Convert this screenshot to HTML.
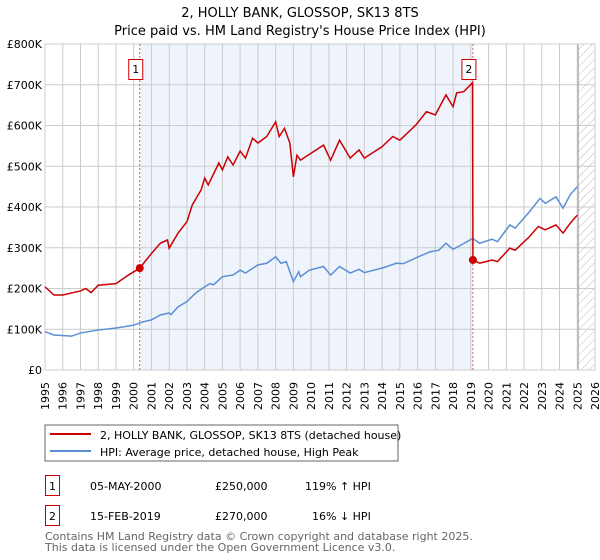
<!DOCTYPE html>
<html><head><meta charset="utf-8"><style>
body{margin:0;background:#fff;font-family:"DejaVu Sans","Liberation Sans",sans-serif;}
svg{display:block}
text{font-family:"DejaVu Sans","Liberation Sans",sans-serif;}
</style></head><body>
<svg id="chart" width="600" height="560" viewBox="0 0 600 560">
<defs>
<pattern id="hatch" width="6" height="6" patternUnits="userSpaceOnUse" patternTransform="rotate(45)">
<line x1="0" y1="0" x2="0" y2="6" stroke="#bbb" stroke-width="1"/></pattern>
</defs>
<text x="300" y="17" text-anchor="middle" font-size="13">2, HOLLY BANK, GLOSSOP, SK13 8TS</text>
<text x="300" y="35" text-anchor="middle" font-size="13">Price paid vs. HM Land Registry's House Price Index (HPI)</text>
<g id="plot"></g>
<rect x="45" y="425" width="353" height="36" fill="#fff" stroke="#666"/>
<line x1="50" y1="434" x2="91" y2="434" stroke="#cc0000" stroke-width="2"/>
<text x="100" y="439" font-size="11">2, HOLLY BANK, GLOSSOP, SK13 8TS (detached house)</text>
<line x1="50" y1="451" x2="91" y2="451" stroke="#5b8fd4" stroke-width="2"/>
<text x="100" y="456" font-size="11">HPI: Average price, detached house, High Peak</text>
<rect x="45.5" y="475.5" width="14" height="20" fill="#fff" stroke="#cc0000"/>
<text x="52.5" y="490" font-size="11" text-anchor="middle">1</text>
<text x="90" y="490" font-size="11">05-MAY-2000</text>
<text x="215" y="490" font-size="11">£250,000</text>
<text x="305" y="490" font-size="11">119% ↑ HPI</text>
<rect x="45.5" y="505.5" width="14" height="20" fill="#fff" stroke="#cc0000"/>
<text x="52.5" y="520" font-size="11" text-anchor="middle">2</text>
<text x="90" y="520" font-size="11">15-FEB-2019</text>
<text x="215" y="520" font-size="11">£270,000</text>
<text x="312" y="520" font-size="11">16% ↓ HPI</text>
<text x="45" y="540" font-size="11" fill="#666">Contains HM Land Registry data © Crown copyright and database right 2025.</text>
<text x="45" y="551" font-size="11" fill="#666">This data is licensed under the Open Government Licence v3.0.</text>
</svg>
<script>
const hpiYears=[1995,1995.5,1996.5,1997,1998,1999,2000,2000.5,2001,2001.5,2002,2002.1,2002.5,2003,2003.5,2004,2004.3,2004.5,2005,2005.6,2006,2006.3,2007,2007.5,2008,2008.3,2008.6,2009,2009.3,2009.4,2009.9,2010.7,2011.1,2011.6,2012.2,2012.7,2013,2014,2014.8,2015.2,2015.9,2016.7,2017.2,2017.6,2018,2018.8,2019.1,2019.5,2020.2,2020.5,2021.2,2021.5,2022.3,2022.9,2023.2,2023.8,2024.2,2024.6,2025];
const hpiValues=[94,86,83,91,98,103,110,118,123,135,140,136,155,168,189,204,212,209,229,233,245,238,258,262,278,262,266,217,241,229,245,254,233,254,238,247,239,250,262,261,275,290,294,311,296,315,323,311,321,315,356,348,388,421,409,425,397,430,450];
const redYears=[1995,1995.5,1996,1997,1997.3,1997.6,1998,1999,1999.7,2000.34,2001,2001.5,2001.9,2002,2002.5,2003,2003.3,2003.8,2004,2004.2,2004.8,2005,2005.3,2005.6,2006,2006.3,2006.7,2007,2007.5,2008,2008.2,2008.5,2008.8,2009,2009.2,2009.4,2010.7,2011.1,2011.6,2012.2,2012.7,2013,2014,2014.6,2015,2015.9,2016.5,2017,2017.6,2018,2018.2,2018.6,2019.1,2019.12,2019.5,2020.2,2020.5,2021.2,2021.5,2022.3,2022.8,2023.2,2023.8,2024.2,2024.6,2025];
const redValues=[204,184,184,194,200,190,208,212,233,250,286,311,319,299,336,364,405,442,471,454,508,491,523,503,537,520,569,557,573,609,573,593,557,474,527,515,552,515,564,520,540,520,548,573,564,601,634,626,675,646,680,683,705,270,262,270,266,299,294,327,352,344,356,336,360,380];
const yTicks=[0,100,200,300,400,500,600,700,800];
const yTickLabels=["£0","£100K","£200K","£300K","£400K","£500K","£600K","£700K","£800K"];
const xTicks=[1995,1996,1997,1998,1999,2000,2001,2002,2003,2004,2005,2006,2007,2008,2009,2010,2011,2012,2013,2014,2015,2016,2017,2018,2019,2020,2021,2022,2023,2024,2025,2026];
const saleYears=[2000.34,2019.12];
const saleValues=[250,270];
const saleLabels=["1","2"];

const NS="http://www.w3.org/2000/svg";
const L=45,R=595,T=44,B=370,X0=1995,X1=2026,YMAX=800;
const xs=v=>L+(v-X0)/(X1-X0)*(R-L);
const ys=v=>B-v/YMAX*(B-T);
const g=document.getElementById('plot');
function mk(tag,attrs){const e=document.createElementNS(NS,tag);for(const k in attrs)e.setAttribute(k,attrs[k]);g.appendChild(e);return e;}

const shade=mk('rect',{x:xs(saleYears[0]),y:T,width:xs(saleYears[1])-xs(saleYears[0]),height:B-T,fill:'#eef3fc'});


const hz=mk('rect',{x:xs(2025.05),y:T,width:R-xs(2025.05),height:B-T,fill:'url(#hatch)'});



yTicks.forEach((t,i)=>{
 const ln=mk('line',{x1:L,x2:R,y1:ys(t),y2:ys(t),stroke:'#ccc','stroke-width':1});
 
 
 const tx=mk('text',{x:L-3,y:ys(t)+4,'text-anchor':'end','font-size':11});
 tx.textContent=yTickLabels[i];
 
 
});
xTicks.forEach(t=>{
 const ln=mk('line',{x1:xs(t),x2:xs(t),y1:T,y2:B,stroke:'#ccc','stroke-width':1});
 
 
 const tx=mk('text',{x:0,y:0,'font-size':11,'text-anchor':'end',transform:`translate(${xs(t)+4},${B+12}) rotate(-90)`});
 tx.textContent=t;
 
 
});
const fl=mk('line',{x1:xs(2025.05),x2:xs(2025.05),y1:T,y2:B,stroke:'#999','stroke-width':1});


const frame=mk('rect',{x:L,y:T,width:R-L,height:B-T,fill:'none',stroke:'#ccc'});



saleYears.forEach((s,i)=>{
 const v=mk('line',{x1:xs(s),x2:xs(s),y1:T,y2:B,stroke:'#e06060','stroke-width':1,'stroke-dasharray':'2,2'});
 
 
});

const hp=mk('polyline',{points:hpiYears.map((y,i)=>xs(y)+','+ys(hpiValues[i])).join(' '),fill:'none',stroke:'#5b8fd4','stroke-width':1.5});


const rp=mk('polyline',{points:redYears.map((y,i)=>xs(y)+','+ys(redValues[i])).join(' '),fill:'none',stroke:'#cc0000','stroke-width':1.5});



saleYears.forEach((s,i)=>{
 const c=mk('circle',{cx:xs(s),cy:ys(saleValues[i]),r:4,fill:'#cc0000'});
 
 
 const b=mk('rect',{x:xs(s)-11,y:59.5,width:14,height:20,fill:'#fff',stroke:'#cc0000'});
 
 
 const t=mk('text',{x:xs(s)-4,y:73,'text-anchor':'middle','font-size':11});
 t.textContent=saleLabels[i];
 
 
});
</script>
</body></html>
